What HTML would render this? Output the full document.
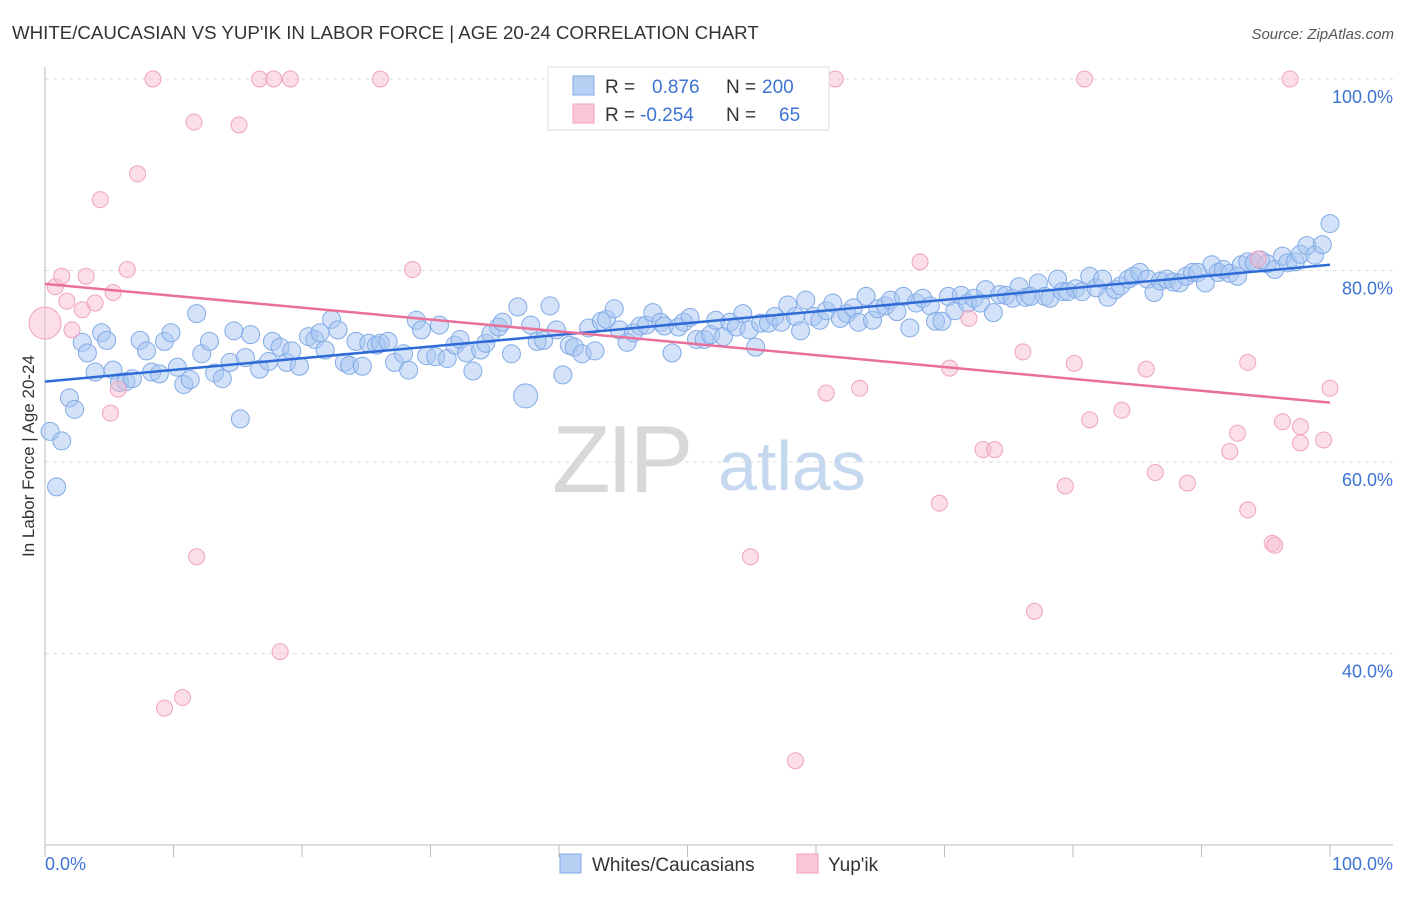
<!DOCTYPE html>
<html><head><meta charset="utf-8"><style>
body{margin:0;background:#fff;font-family:"Liberation Sans",sans-serif;}
svg text{font-family:"Liberation Sans",sans-serif;}
</style></head><body>
<svg id="chart" width="1406" height="892" xmlns="http://www.w3.org/2000/svg">
<text x="12" y="39" font-size="18.7" fill="#333">WHITE/CAUCASIAN VS YUP'IK IN LABOR FORCE | AGE 20-24 CORRELATION CHART</text>
<text x="1394" y="39" font-size="15" fill="#555" font-style="italic" text-anchor="end">Source: ZipAtlas.com</text>
<g id="grid"></g>
<g>
<text x="552" y="492" font-size="96" fill="#d8d8d8" font-family="Liberation Serif" letter-spacing="-4">ZIP</text>
<text x="718" y="490" font-size="70" fill="#c6d8ef">atlas</text>
</g>
<g id="pts"></g>
<g id="trends"></g>
<text transform="translate(34,456) rotate(-90)" font-size="17" fill="#333" text-anchor="middle">In Labor Force | Age 20-24</text>
<g>
<rect x="548" y="67" width="281" height="63" fill="#fff" stroke="#ddd"/>
<rect x="573" y="76" width="21" height="19" fill="#b8d0f4" stroke="#7fa9e6"/>
<rect x="573" y="104" width="21" height="19" fill="#f9c6d6" stroke="#f0a0bd"/>
<text x="605" y="93" font-size="19" fill="#333">R =</text>
<text x="652" y="93" font-size="19" fill="#3d73d4">0.876</text>
<text x="726" y="93" font-size="19" fill="#333">N =</text>
<text x="762" y="93" font-size="19" fill="#3d73d4">200</text>
<text x="605" y="121" font-size="19" fill="#333">R =</text>
<text x="640" y="121" font-size="19" fill="#3d73d4">-0.254</text>
<text x="726" y="121" font-size="19" fill="#333">N =</text>
<text x="779" y="121" font-size="19" fill="#3d73d4">65</text>
</g>
<g>
<rect x="560" y="854" width="21" height="19" fill="#b8d0f4" stroke="#7fa9e6"/>
<text x="592" y="871" font-size="19" fill="#333">Whites/Caucasians</text>
<rect x="797" y="854" width="21" height="19" fill="#f9c6d6" stroke="#f0a0bd"/>
<text x="828" y="871" font-size="19" fill="#333">Yup'ik</text>
</g>
</svg>
<script>
const xTickLabels=["0.0%","100.0%"];
const yTicks=[40,60,80,100];
const yTickLabels=["40.0%","60.0%","80.0%","100.0%"];
const blueX=[0.4,0.9,1.3,1.9,2.3,2.9,3.3,3.9,4.4,4.8,5.3,5.8,6.3,6.8,7.4,7.9,8.3,8.9,9.3,9.8,10.3,10.8,11.3,11.8,12.2,12.8,13.2,13.8,14.4,14.7,15.2,15.6,16.0,16.7,17.4,17.7,18.3,18.8,19.2,19.8,20.5,21.0,21.4,21.8,22.3,22.8,23.3,23.7,24.2,24.7,25.2,25.8,26.1,26.7,27.2,27.9,28.3,28.9,29.3,29.7,30.4,30.7,31.3,31.9,32.3,32.8,33.3,33.9,34.3,34.7,35.3,35.6,36.3,36.8,37.4,37.8,38.3,38.8,39.3,39.8,40.3,40.8,41.2,41.8,42.3,42.8,43.3,43.7,44.3,44.7,45.3,45.8,46.3,46.8,47.3,47.9,48.2,48.8,49.3,49.7,50.2,50.7,51.3,51.8,52.2,52.8,53.3,53.8,54.3,54.8,55.3,55.7,56.3,56.8,57.3,57.8,58.4,58.8,59.2,59.8,60.3,60.8,61.3,61.9,62.4,62.9,63.3,63.9,64.4,64.8,65.4,65.8,66.3,66.8,67.3,67.8,68.3,68.9,69.3,69.8,70.3,70.8,71.3,71.8,72.3,72.8,73.2,73.8,74.3,74.8,75.3,75.8,76.3,76.7,77.3,77.8,78.2,78.8,79.2,79.6,80.2,80.7,81.3,81.8,82.3,82.7,83.3,83.7,84.3,84.7,85.2,85.8,86.3,86.8,87.3,87.8,88.3,88.8,89.3,89.7,90.3,90.8,91.3,91.7,92.2,92.8,93.1,93.6,94.1,94.6,95.1,95.7,96.3,96.7,97.3,97.7,98.2,98.8,99.4,100];
const blueY=[63.2,57.4,62.2,66.7,65.5,72.5,71.4,69.4,73.5,72.7,69.6,68.3,68.4,68.7,72.7,71.6,69.4,69.2,72.6,73.5,69.9,68.1,68.6,75.5,71.3,72.6,69.3,68.7,70.4,73.7,64.5,70.9,73.3,69.7,70.5,72.6,72.0,70.4,71.6,70.0,73.1,72.8,73.5,71.7,74.9,73.8,70.4,70.1,72.6,70.0,72.4,72.2,72.4,72.6,70.4,71.3,69.6,74.8,73.8,71.1,71.0,74.3,70.8,72.2,72.8,71.4,69.5,71.7,72.4,73.4,74.1,74.6,71.3,76.2,66.9,74.3,72.6,72.7,76.3,73.8,69.1,72.2,72.0,71.3,74.0,71.6,74.7,74.9,76.0,73.8,72.5,73.5,74.2,74.3,75.6,74.6,74.2,71.4,74.1,74.6,75.1,72.8,72.8,73.3,74.8,73.1,74.6,74.1,75.5,73.8,72.0,74.5,74.5,75.2,74.6,76.4,75.2,73.7,76.9,75.2,74.8,75.8,76.6,75.0,75.5,76.1,74.6,77.3,74.8,76.0,76.3,76.9,75.7,77.3,74.0,76.6,77.1,76.3,74.7,74.7,77.3,75.8,77.4,76.6,77.1,76.6,78.0,75.6,77.5,77.4,77.1,78.3,77.2,77.3,78.7,77.3,77.1,79.1,77.8,77.8,78.1,77.8,79.4,78.2,79.1,77.2,78.0,78.4,79.1,79.4,79.8,79.1,77.7,78.9,79.1,78.8,78.7,79.4,79.8,79.8,78.7,80.6,79.8,80.1,79.7,79.4,80.6,80.9,80.8,81.1,80.7,80.1,81.5,80.8,80.9,81.7,82.6,81.6,82.7,84.9];
const pinkX=[0,0.8,1.3,1.7,2.1,2.9,3.2,3.9,4.3,5.1,5.3,5.7,6.4,7.2,8.4,9.3,10.7,11.6,11.8,15.1,16.7,17.8,18.3,19.1,26.1,28.6,54.9,58.4,60.0,60.2,60.8,61.5,63.4,68.1,69.6,70.4,71.9,73.0,73.9,76.1,77.0,79.4,80.1,81.3,80.9,83.8,85.7,86.4,88.9,92.2,92.8,93.6,93.6,94.4,95.5,95.7,96.3,96.9,97.7,97.7,99.5,100];
const pinkY=[74.5,78.3,79.4,76.8,73.8,75.9,79.4,76.6,87.4,65.1,77.7,67.6,80.1,90.1,100,34.3,35.4,95.5,50.1,95.2,100,100,40.2,100,100,80.1,50.1,28.8,100,97.8,67.2,100,67.7,80.9,55.7,69.8,75.0,61.3,61.3,71.5,44.4,57.5,70.3,64.4,100,65.4,69.7,58.9,57.8,61.1,63.0,55.0,70.4,81.2,51.5,51.3,64.2,100,63.7,62.0,62.3,67.7];
const blueTrend=[68.4,80.6];
const pinkTrend=[78.6,66.2];

const NS="http://www.w3.org/2000/svg";
const X0=45,X1=1330,YTOP=79,YBOT=845,YMIN=20,YMAX=100;
function sx(v){return X0+(X1-X0)*v/100;}
function sy(v){return YBOT-(YBOT-YTOP)*(v-YMIN)/(YMAX-YMIN);}
function mk(tag,attrs,parent){const e=document.createElementNS(NS,tag);for(const k in attrs)e.setAttribute(k,attrs[k]);parent.appendChild(e);return e;}
const svg=document.getElementById('chart');
const grid=document.getElementById('grid');
yTicks.forEach((t,i)=>{
  const l=mk('line',{x1:45,x2:1393,y1:sy(t),y2:sy(t),stroke:'#ddd','stroke-dasharray':'4,4'},grid);
  
  
  const tx=mk('text',{x:1393,y:sy(t)+24,'font-size':18,fill:'#3d73d4','text-anchor':'end'},grid);
  tx.textContent=yTickLabels[i];
  
  
});
const ax=mk('line',{x1:45,x2:1393,y1:845,y2:845,stroke:'#bbb'},grid);


const ay=mk('line',{x1:45,x2:45,y1:67,y2:845,stroke:'#bbb'},grid);


for(let i=0;i<=10;i++){
  const t=mk('line',{x1:sx(i*10),x2:sx(i*10),y1:845,y2:857,stroke:'#bbb'},grid);
  
  
}
[[0,'start'],[100,'end']].forEach((p,i)=>{
  const tx=mk('text',{x:i==0?45:1393,y:870,'font-size':18,fill:'#3d73d4','text-anchor':p[1]},grid);
  tx.textContent=xTickLabels[i];
  
  
});
const pts=document.getElementById('pts');
blueX.forEach((x,i)=>{
  const r=(i==74)?12:9;
  const c=mk('circle',{cx:sx(x),cy:sy(blueY[i]),r:r,fill:'rgba(168,198,242,0.5)',stroke:'#82abe6','stroke-width':1},pts);
  
  
});
pinkX.forEach((x,i)=>{
  const r=(i==0)?16:8;
  const c=mk('circle',{cx:sx(x),cy:sy(pinkY[i]),r:r,fill:'rgba(248,190,210,0.5)',stroke:'#f0a3bf','stroke-width':1},pts);
  
  
});
const tr=document.getElementById('trends');
const bl=mk('line',{x1:sx(0),y1:sy(blueTrend[0]),x2:sx(100),y2:sy(blueTrend[1]),stroke:'#2f6bd6','stroke-width':2.5},tr);


const pl=mk('line',{x1:sx(0),y1:sy(pinkTrend[0]),x2:sx(100),y2:sy(pinkTrend[1]),stroke:'#e8709a','stroke-width':2.5},tr);


</script>
</body></html>
